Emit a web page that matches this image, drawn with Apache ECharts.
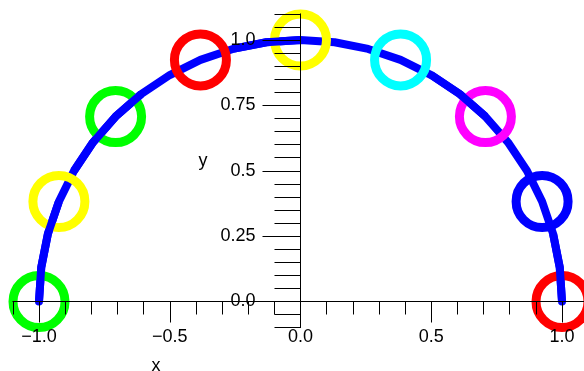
<!DOCTYPE html>
<html>
<head>
    <meta charset="utf-8">
    <style type="text/css">
        *, html, body {
            margin: 0;
            padding: 0;
        }
        html, body, #container {
            width: 584px;
            height: 371px;
            background: #fff;
        }
    </style>
    <script type="text/javascript" src="https://cdn.jsdelivr.net/npm/echarts@6/dist/echarts.min.js"></script>
</head>
<body>
<div id="container"></div>
<script type="text/javascript">
    // semicircle, sampled every 7.5 degrees from left to right
    var curveX = [-1, -0.9914, -0.9659, -0.9239, -0.866, -0.7934, -0.7071, -0.6088, -0.5, -0.3827, -0.2588, -0.1305, 0,
        0.1305, 0.2588, 0.3827, 0.5, 0.6088, 0.7071, 0.7934, 0.866, 0.9239, 0.9659, 0.9914, 1];
    var curveY = [0, 0.1305, 0.2588, 0.3827, 0.5, 0.6088, 0.7071, 0.7934, 0.866, 0.9239, 0.9659, 0.9914, 1,
        0.9914, 0.9659, 0.9239, 0.866, 0.7934, 0.7071, 0.6088, 0.5, 0.3827, 0.2588, 0.1305, 0];

    // ring markers
    var markerX = [-1, -0.9239, -0.7071, -0.3827, 0, 0.3827, 0.7071, 0.9239, 1];
    var markerY = [0, 0.3827, 0.7071, 0.9239, 1, 0.9239, 0.7071, 0.3827, 0];
    var markerColors = ['#00ff00', '#ffff00', '#00ff00', '#ff0000', '#ffff00', '#00ffff', '#ff00ff', '#0000ff', '#ff0000'];

    // pieces of the curve that are drawn over the rings (start, end index into curve)
    var curveOnTop = [[0, 3], [4, 7], [10, 12], [16, 18], [22, 24]];

    var xTickValues = [-1, -0.5, 0, 0.5, 1];
    var xTickLabels = ['\u22121.0', '\u22120.5', '0.0', '0.5', '1.0'];
    var yTickValues = [0, 0.25, 0.5, 0.75, 1];
    var yTickLabels = ['0.0', '0.25', '0.5', '0.75', '1.0'];

    var FONT = '"Liberation Sans", Arial, sans-serif';

    function pick(values, labels) {
        return function (v) {
            for (var i = 0; i < values.length; i++) {
                if (Math.abs(values[i] - v) < 1e-6) return labels[i];
            }
            return '';
        };
    }

    function pts(from, to) {
        var out = [];
        for (var i = from; i <= to; i++) out.push([curveX[i], curveY[i]]);
        return out;
    }

    var myChart = echarts.init(document.getElementById('container'), null, {renderer: 'canvas'});

    var series = [{
        type: 'line',
        xAxisIndex: 0,
        yAxisIndex: 0,
        data: pts(0, curveX.length - 1),
        showSymbol: false,
        clip: false,
        z: 2,
        lineStyle: {color: '#0000ff', width: 8, cap: 'round', join: 'round'}
    }, {
        type: 'scatter',
        xAxisIndex: 0,
        yAxisIndex: 0,
        clip: false,
        z: 3,
        symbol: 'circle',
        symbolSize: 52,
        data: markerX.map(function (x, i) {
            return {
                value: [x, markerY[i]],
                itemStyle: {color: 'rgba(0,0,0,0)', borderColor: markerColors[i], borderWidth: 9, opacity: 1}
            };
        })
    }];

    curveOnTop.forEach(function (r) {
        series.push({
            type: 'line',
            xAxisIndex: 0,
            yAxisIndex: 0,
            data: pts(r[0], r[1]),
            showSymbol: false,
            clip: false,
            z: 4,
            lineStyle: {color: '#0000ff', width: 8, cap: 'butt', join: 'round'}
        });
    });

    var axisLine = {show: true, onZero: true, lineStyle: {color: '#000', width: 1}};
    var noZero = {show: true, onZero: false, lineStyle: {color: '#000', width: 1}};
    var gridBase = {outerBoundsMode: 'none', containLabel: false};

    var option = {
        animation: false,
        backgroundColor: '#fff',
        grid: [
            // data + x major ticks/labels: -1..1 / 0..1
            Object.assign({left: 39, right: 22, top: 40, bottom: 69.5}, gridBase),
            // minor ticks + full axis lines: -1.1..1.1 / -0.1..1.1
            Object.assign({left: 12.85, right: -4.15, top: 13.85, bottom: 43.35}, gridBase),
            // y major ticks/labels: right half, 0..1 / 0..1
            Object.assign({left: 300.5, right: 22, top: 40, bottom: 69.5}, gridBase)
        ],
        xAxis: [{
            type: 'value', gridIndex: 0, min: -1, max: 1, interval: 0.5, z: 10,
            axisLine: noZero,
            axisTick: {show: true, length: 21, lineStyle: {color: '#000'}},
            splitLine: {show: false},
            axisLabel: {
                color: '#000', fontSize: 18, fontFamily: FONT, margin: 27,
                formatter: pick(xTickValues, xTickLabels)
            }
        }, {
            type: 'value', gridIndex: 1, min: -1.1, max: 1.1, interval: 0.1, z: 10,
            axisLine: axisLine,
            axisTick: {show: true, length: 13, lineStyle: {color: '#000'}},
            splitLine: {show: false},
            axisLabel: {show: false}
        }, {
            type: 'value', gridIndex: 2, min: 0, max: 1, show: false
        }],
        yAxis: [{
            type: 'value', gridIndex: 0, min: 0, max: 1, show: false
        }, {
            type: 'value', gridIndex: 1, min: -0.1, max: 1.1, interval: 0.05, z: 10,
            axisLine: axisLine,
            axisTick: {show: true, length: 26, lineStyle: {color: '#000'}},
            splitLine: {show: false},
            axisLabel: {show: false}
        }, {
            type: 'value', gridIndex: 2, min: 0, max: 1, interval: 0.25, z: 10,
            axisLine: noZero,
            axisTick: {show: true, length: 38, lineStyle: {color: '#000'}},
            splitLine: {show: false},
            axisLabel: {
                color: '#000', fontSize: 18, fontFamily: FONT, margin: 45,
                padding: [3, 0, 0, 0],
                formatter: pick(yTickValues, yTickLabels)
            }
        }],
        graphic: [{
            type: 'text', x: 156, y: 366, z: 10,
            style: {text: 'x', fill: '#000', font: '18px ' + FONT, align: 'center', verticalAlign: 'middle'}
        }, {
            type: 'text', x: 203, y: 161, z: 10,
            style: {text: 'y', fill: '#000', font: '18px ' + FONT, align: 'center', verticalAlign: 'middle'}
        }],
        series: series
    };

    myChart.setOption(option);
</script>
</body>
</html>
